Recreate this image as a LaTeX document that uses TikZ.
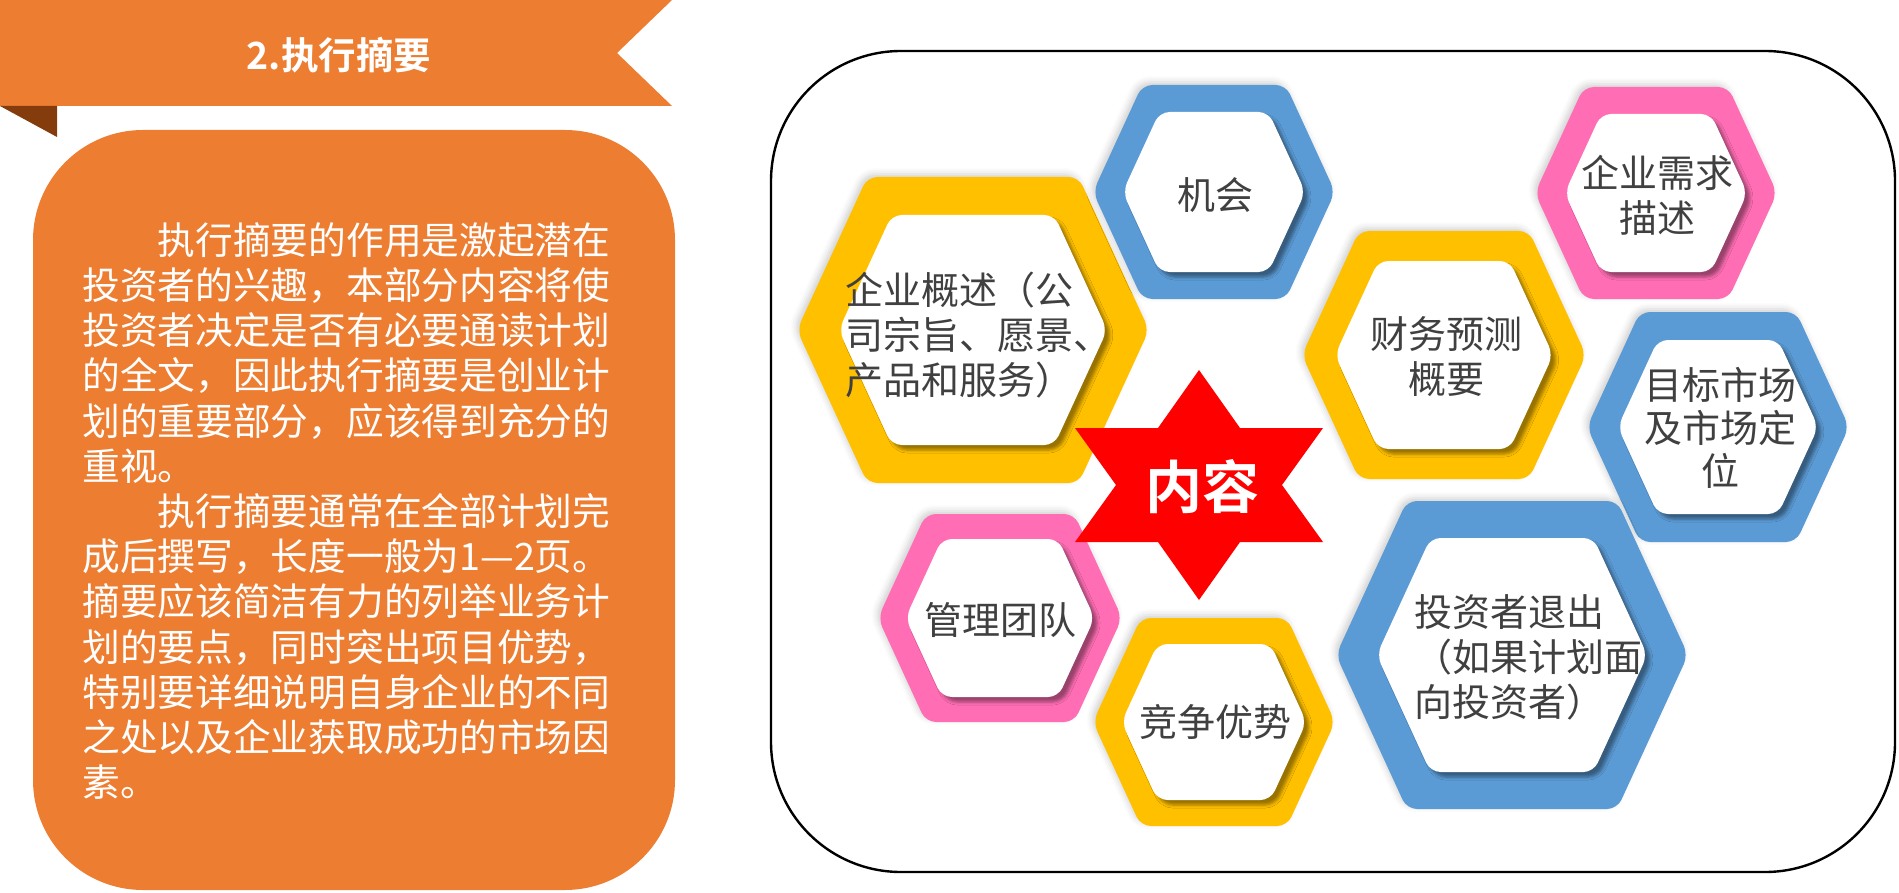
\documentclass[tikz,border=0pt]{standalone}
\usepackage{fontspec}
\setmainfont{Noto Sans CJK SC}[BoldFont={Noto Sans CJK SC Bold}]
\usepackage{tikz}
\usetikzlibrary{shadows.blur}
\definecolor{morange}{HTML}{ED7D31}
\definecolor{mbrown}{HTML}{843C0C}
\definecolor{mblue}{HTML}{5B9BD5}
\definecolor{myellow}{HTML}{FFC000}
\definecolor{mpink}{HTML}{FF6EB4}
\definecolor{mred}{HTML}{FF0000}
\colorlet{mgray}{black!75}
\tikzset{
  hex ring/.style={rounded corners=5pt,blur shadow={shadow xshift=-1.5pt,shadow yshift=1.5pt,shadow opacity=18,shadow blur radius=3pt}},
  hex inner/.style={fill=white,rounded corners=5pt,blur shadow={shadow xshift=2.5pt,shadow yshift=-2.5pt,shadow opacity=40,shadow blur radius=1.5pt}},
  hex label/.style={text=mgray,font=\fontsize{19}{22.5}\selectfont,align=center},
  body text/.style={text=white,font=\fontsize{18.85}{22.6}\selectfont,align=left}
}
% hexagon: centre x, centre y, half width, half height
\newcommand{\hexpath}[4]{({#1-(#3)},#2) -- ({#1-(#3)+0.46*(#4)},{#2-(#4)}) -- ({#1+(#3)-0.46*(#4)},{#2-(#4)}) -- ({#1+(#3)},#2) -- ({#1+(#3)-0.46*(#4)},{#2+(#4)}) -- ({#1-(#3)+0.46*(#4)},{#2+(#4)}) -- cycle}
% ring: centre x, centre y, half width, half height, ring width, colour
\newcommand{\hexring}[6]{%
  \fill[hex ring,#6] \hexpath{#1}{#2}{#3}{#4};
  \fill[hex inner] \hexpath{#1}{#2}{#3-1.1*#5}{#4-#5};
}

\begin{document}
\begin{tikzpicture}[x=0.5pt,y=-0.5pt,every node/.style={inner sep=0pt}]
  \useasboundingbox (0,0) rectangle (1899,893);

  % Title banner
  \fill[morange] (0,0) -- (672,0) -- (617,53) -- (672,106) -- (0,106) -- cycle;
  \fill[mbrown] (0,106) -- (57,106) -- (57,137) -- cycle;
  \node[text=white,font=\fontsize{18.75}{22}\selectfont\bfseries] (title) at (339,55) {2.执行摘要};

  % Summary box
  \fill[morange,rounded corners=55pt] (33,130) rectangle (675,890);
  \node[body text,anchor=north west] (summary) at (82,222) {%
    \hspace*{2em}执行摘要的作用是激起潜在\\
    投资者的兴趣，本部分内容将使\\
    投资者决定是否有必要通读计划\\
    的全文，因此执行摘要是创业计\\
    划的重要部分，应该得到充分的\\
    重视。\\
    \hspace*{2em}执行摘要通常在全部计划完\\
    成后撰写，长度一般为1—2页。\\
    摘要应该简洁有力的列举业务计\\
    划的要点，同时突出项目优势，\\
    特别要详细说明自身企业的不同\\
    之处以及企业获取成功的市场因\\
    素。};

  % Content frame
  \draw[line width=1.2pt,rounded corners=65pt] (771,51) rectangle (1895,872);

  % Hexagon rings
  \hexring{973}{330}{176}{153}{38}{myellow}
  \hexring{1214}{192}{121}{107}{27}{mblue}
  \hexring{1656}{193}{121}{106}{27}{mpink}
  \hexring{1444}{355}{142}{124}{30}{myellow}
  \hexring{1718}{427}{131}{115}{28}{mblue}
  \hexring{1512}{655}{176}{154}{37}{mblue}
  \hexring{1000}{618}{122}{104}{25}{mpink}
  \hexring{1214}{722}{121}{104}{26}{myellow}

  % Star
  \fill[mred] (1199,370) -- (1240,428) -- (1323,428) -- (1282,485) -- (1323,542) -- (1240,542)
    -- (1199,600) -- (1158,542) -- (1075,542) -- (1116,485) -- (1075,428) -- (1158,428) -- cycle;
  \node[text=white,font=\fontsize{28.5}{30}\selectfont\bfseries] (core) at (1202,487) {内容};

  % Labels
  \node[hex label,align=left,anchor=west] (overview) at (845,335) {企业概述（公\\司宗旨、愿景、\\产品和服务）};
  \node[hex label] (chance) at (1215,195) {机会};
  \node[hex label] (demand) at (1657,195) {企业需求\\描述};
  \node[hex label] (finance) at (1446,357) {财务预测\\概要};
  \node[hex label,font=\fontsize{19}{21.5}\selectfont] (market) at (1720,428) {目标市场\\及市场定\\位};
  \node[hex label,align=left,anchor=west] (exit) at (1414,657) {投资者退出\\（如果计划面\\向投资者）};
  \node[hex label] (team) at (1000,620) {管理团队};
  \node[hex label] (compete) at (1215,722) {竞争优势};
\end{tikzpicture}
\end{document}
